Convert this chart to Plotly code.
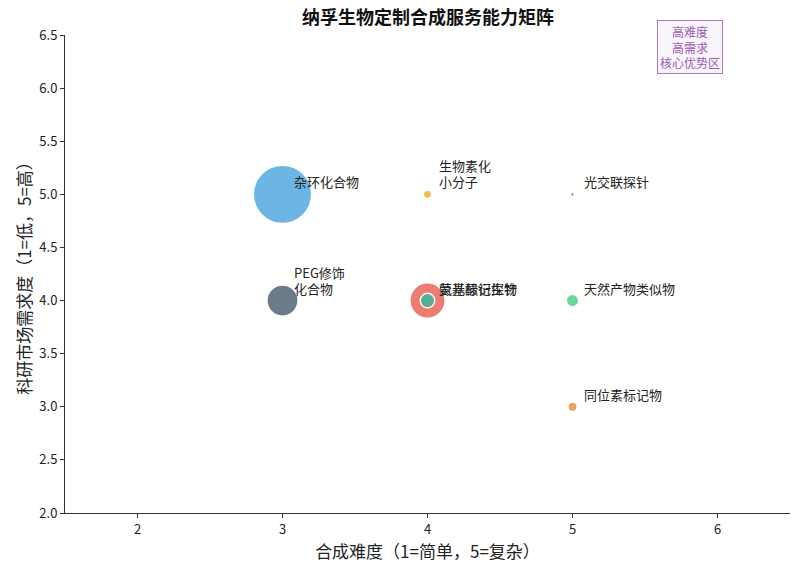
import plotly.graph_objects as go

names = ["杂环化合物", "PEG修饰<br>化合物", "氨基酸衍生物", "荧光标记探针", "生物素化<br>小分子", "光交联探针", "天然产物类似物", "同位素标记物"]
difficulty = [3, 3, 4, 4, 4, 5, 5, 5]
demand = [5, 4, 4, 4, 5, 5, 4, 3]
volume = [98, 28, 36, 6, 2, 0.5, 4.5, 2.5]
colors = ["#5DADE2", "#5D6D7E", "#EC7063", "#45B39D", "#F5B041", "#AF7AC5", "#58D68D", "#EB984E"]

FONT = "Noto Sans CJK SC, Microsoft YaHei, sans-serif"

fig = go.Figure()
fig.add_trace(go.Scatter(
    x=difficulty, y=demand, mode="markers",
    marker=dict(size=volume, sizemode="area", sizeref=0.0575, color=colors,
                opacity=0.9, line=dict(color="white", width=1.5)),
    hoverinfo="skip", showlegend=False,
))

for n, x, y in zip(names, difficulty, demand):
    lines = n.split("<br>")
    for i, ln in enumerate(lines):
        k = len(lines) - 1 - i
        fig.add_annotation(x=x, y=y, text=ln, showarrow=False, xanchor="left", yanchor="bottom",
                           xshift=10, yshift=2 + 16 * k, align="left", borderpad=0,
                           font=dict(family=FONT, size=13, color="#222"))

fig.add_annotation(xref="paper", yref="paper", x=0.862, y=0.975, text="高难度<br>高需求<br>核心优势区",
                   showarrow=False, xanchor="center", yanchor="middle", align="center",
                   font=dict(family=FONT, size=12, color="#9B59B6"),
                   bgcolor="rgba(155,89,182,0.06)", bordercolor="#AF7AC5", borderwidth=1, borderpad=2)

fig.update_layout(
    width=800, height=574,
    margin=dict(l=65, r=10, t=35, b=61),
    plot_bgcolor="white", paper_bgcolor="white",
    font=dict(family=FONT, size=13, color="#222"),
    title=dict(text="<b>纳孚生物定制合成服务能力矩阵</b>", x=0.535, xanchor="center", y=0.97, yanchor="middle",
               font=dict(family=FONT, size=18, color="#111")),
    xaxis=dict(range=[1.5, 6.5], dtick=1, tick0=0, showgrid=False, zeroline=False,
               showline=True, linecolor="#333", linewidth=1, ticks="outside", ticklen=4, tickcolor="#333",
               title=dict(text="合成难度（1=简单，5=复杂）", font=dict(size=17), standoff=8),
               tickfont=dict(size=13)),
    yaxis=dict(range=[2.0, 6.5], dtick=0.5, tickformat=".1f", showgrid=False, zeroline=False,
               showline=True, linecolor="#333", linewidth=1, ticks="outside", ticklen=4, tickcolor="#333",
               title=dict(text="科研市场需求度（1=低，5=高）", font=dict(size=17), standoff=3),
               tickfont=dict(size=13)),
)

fig.write_html("out.html")
